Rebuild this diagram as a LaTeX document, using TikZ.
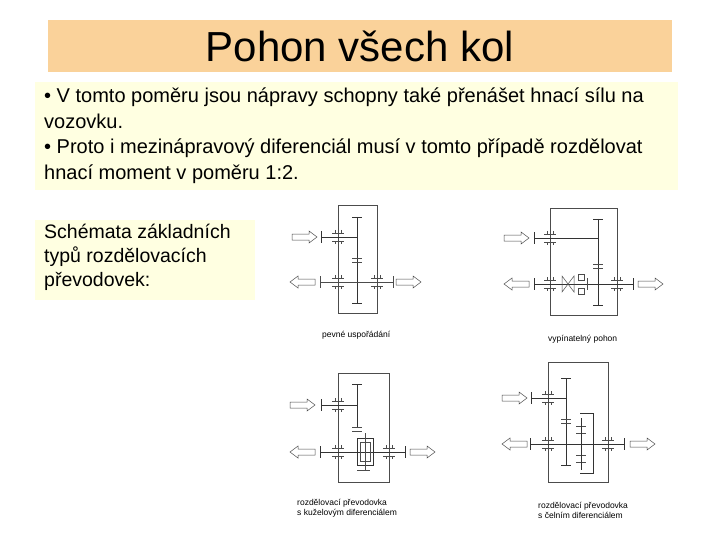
\documentclass[tikz,border=0pt]{standalone}
\usepackage{fontspec}
\setmainfont{Liberation Sans}
\definecolor{titlefill}{HTML}{FAD29A}
\definecolor{textfill}{HTML}{FFFFE1}
\tikzset{
  mech/.style={black!80,line width=0.8pt},
  thin mech/.style={black!70,line width=0.5pt},
  caption/.style={font=\fontsize{8.5}{10}\selectfont,align=left,anchor=west,inner sep=0pt},
}
% hollow block arrow, pointing right from (#1,#2); #3 = 1 or -1
\newcommand\blockarrow[3]{
  \draw[thin mech,shift={(#1,#2)},xscale=#3] (0,-3) -- (17,-3) -- (17,-6) -- (25,0)
    -- (17,6) -- (17,3) -- (0,3) -- cycle;
}
% bearing on a shaft
\newcommand\bearing[2]{
  \draw[thin mech,shift={(#1,#2)}] (-6,-4) -- (6,-4) (-6,4) -- (6,4)
    (-3,-7) -- (-3,-4) (3,-7) -- (3,-4) (-3,4) -- (-3,7) (3,4) -- (3,7);
}
% gear: vertical line with end bars
\newcommand\gear[3]{
  \draw[mech] (#1,#2) -- (#1,#3);
  \draw[mech] (#1-5,#2) -- (#1+5,#2) (#1-5,#3) -- (#1+5,#3);
}
\begin{document}
\begin{tikzpicture}[x=1pt,y=-1pt]
\useasboundingbox (0,0) rectangle (720,540);
\fill[white] (0,0) rectangle (720,540);

% nadpis a texty
\fill[titlefill] (48,20) rectangle (672,72);
\node (title) at (360,46) {\fontsize{42}{44}\selectfont Pohon všech kol};
\fill[textfill] (35,82) rectangle (678,190);
\node[anchor=north west,align=left,inner sep=0pt,font=\fontsize{20}{25.5}\selectfont] (bullets) at (44,88)
  {• V tomto poměru jsou nápravy schopny také přenášet hnací sílu na\\
   vozovku.\\
   • Proto i mezinápravový diferenciál musí v tomto případě rozdělovat\\
   hnací moment v poměru 1:2.};
\fill[textfill] (35,220) rectangle (255,300);
\node[anchor=north west,align=left,inner sep=0pt,font=\fontsize{19.5}{24}\selectfont] (schemata) at (44,224)
  {Schémata základních\\ typů rozdělovacích\\ převodovek:};

% pevne usporadani
\draw[thin mech] (338,205) rectangle (377,313);
\blockarrow{292}{237}{1}
\draw[mech] (321,237) -- (357,237) (321,231) -- (321,243);
\bearing{338}{237}
\gear{357}{217}{303}
\draw[thin mech] (352,258) -- (362,258) (352,262) -- (362,262);
\draw[thin mech] (320,282) -- (393,282) (320,276) -- (320,288) (393,276) -- (393,288);
\bearing{338}{282}\bearing{377}{282}
\blockarrow{315}{282}{-1}
\blockarrow{396}{282}{1}
\node[caption] (cap1) at (322,335) {pevné uspořádání};

% vypinatelny pohon
\draw[thin mech] (550,208) rectangle (617,315);
\blockarrow{504}{238}{1}
\draw[mech] (534,238) -- (598,238) (534,232) -- (534,244);
\bearing{550}{238}
\gear{598}{219}{305}
\draw[thin mech] (593,264) -- (603,264) (593,268) -- (603,268);
\draw[mech] (534,284) -- (633,284) (534,278) -- (534,290) (633,278) -- (633,290);
\bearing{550}{284}\bearing{617}{284}
\draw[thin mech] (562,276) -- (574,292) -- (574,276) -- (562,292) -- cycle;
\draw[thin mech] (578,274) rectangle (584,280) (578,288) rectangle (584,294)
  (587,278) -- (587,290);
\blockarrow{529}{284}{-1}
\blockarrow{638}{284}{1}
\node[caption] (cap2) at (548,339) {vypínatelný pohon};

% rozdelovaci prevodovka s kuzelovym diferencialem
\draw[thin mech] (338,373) rectangle (389,482);
\blockarrow{290}{405}{1}
\draw[mech] (321,405) -- (357,405) (321,399) -- (321,411);
\bearing{338}{405}
\gear{357}{384}{427}
\draw[thin mech] (352,427) -- (362,427) (352,431) -- (362,431);
\draw[mech] (320,452) -- (405,452) (320,446) -- (320,458) (405,446) -- (405,458);
\bearing{338}{452}\bearing{389}{452}
\draw[mech] (357,438) rectangle (373,465);
\draw[thin mech] (360,442) rectangle (370,461) (365,433) -- (365,470)
  (357,470) -- (370,470);
\blockarrow{315}{452}{-1}
\blockarrow{410}{452}{1}
\node[caption] (cap3) at (297,508) {rozdělovací převodovka\\s kuželovým diferenciálem};

% rozdelovaci prevodovka s celnim diferencialem
\draw[thin mech] (548,362) rectangle (608,482);
\blockarrow{502}{398}{1}
\draw[mech] (531,398) -- (566,398) (531,392) -- (531,404);
\bearing{548}{398}
\gear{566}{378}{465}
\draw[thin mech] (561,419) -- (571,419) (561,423) -- (571,423);
\draw[mech] (530,444) -- (624,444) (530,438) -- (530,450) (624,438) -- (624,450);
\bearing{548}{444}\bearing{608}{444}
\draw[mech] (580,413) -- (593,413) -- (593,473) -- (580,473);
\foreach \gy in {426,433,455,462}
  \draw[thin mech] (576,\gy) -- (586,\gy);
\draw[mech] (581,418) -- (581,470);
\blockarrow{527}{444}{-1}
\blockarrow{630}{444}{1}
\node[caption] (cap4) at (538,510) {rozdělovací převodovka\\s čelním diferenciálem};
\end{tikzpicture}
\end{document}
